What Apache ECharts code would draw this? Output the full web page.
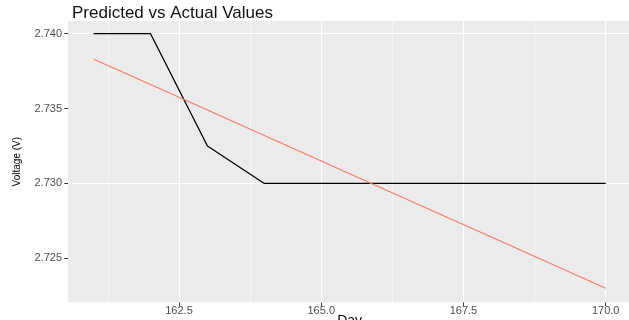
<!DOCTYPE html>
<html><head><meta charset="utf-8">
<script src="https://cdn.jsdelivr.net/npm/echarts@6/dist/echarts.min.js"></script>
<style>html,body{margin:0;padding:0;background:#fff;overflow:hidden}#c{width:629px;height:320px}</style>
</head><body><div id="c"></div>
<script>
const days = [161, 162, 163, 164, 165, 166, 167, 168, 169, 170];
const actual = [2.740, 2.740, 2.7325, 2.730, 2.730, 2.730, 2.730, 2.730, 2.730, 2.730];
const predicted = [2.7383, 2.7366, 2.7349, 2.7332, 2.7315, 2.7298, 2.7281, 2.7264, 2.7247, 2.7230];
const xTicks = [162.5, 165.0, 167.5, 170.0];
const xMinor = [161.25, 163.75, 166.25, 168.75];
const yTicks = [2.725, 2.730, 2.735, 2.740];
const yMinor = [2.7225, 2.7275, 2.7325, 2.7375];

const FONT = 'Liberation Sans, Arial, sans-serif';
const gridLines = [];
xMinor.forEach(v => gridLines.push({ xAxis: v, lineStyle: { width: 0.55 } }));
yMinor.forEach(v => gridLines.push({ yAxis: v, lineStyle: { width: 0.55 } }));
xTicks.forEach(v => gridLines.push({ xAxis: v, lineStyle: { width: 1.1 } }));
yTicks.forEach(v => gridLines.push({ yAxis: v, lineStyle: { width: 1.1 } }));

const chart = echarts.init(document.getElementById('c'), null, { renderer: 'canvas' });
chart.setOption({
  animation: false,
  title: {
    text: 'Predicted vs Actual Values', left: 67, top: 0,
    textStyle: { fontFamily: FONT, fontSize: 17, fontWeight: 'normal', color: '#111' }
  },
  grid: { left: 68, top: 21, width: 563.3, height: 281.3, show: true, backgroundColor: '#EBEBEB', borderWidth: 0, containLabel: false, outerBoundsMode: 'none' },
  xAxis: {
    type: 'value', min: 160.549, max: 170.45,
    name: 'Day', nameLocation: 'middle', nameGap: 12, nameMoveOverlap: false,
    nameTextStyle: { fontFamily: FONT, fontSize: 14, color: '#000' },
    axisLine: { show: false },
    axisTick: { show: true, customValues: xTicks, length: 3.7, lineStyle: { color: '#333', width: 1 } },
    axisLabel: { customValues: xTicks, formatter: v => v.toFixed(1), color: '#4d4d4d', fontFamily: FONT, fontSize: 11, margin: 3 },
    splitLine: { show: false }
  },
  yAxis: {
    type: 'value', min: 2.722061, max: 2.740848,
    name: 'Voltage (V)', nameLocation: 'middle', nameGap: 46, nameRotate: 90, nameMoveOverlap: false,
    nameTextStyle: { fontFamily: FONT, fontSize: 10, color: '#000' },
    axisLine: { show: false },
    axisTick: { show: true, customValues: yTicks, length: 3.7, lineStyle: { color: '#333', width: 1 } },
    axisLabel: { customValues: yTicks, formatter: v => v.toFixed(3), color: '#4d4d4d', fontFamily: FONT, fontSize: 11, margin: 6 },
    splitLine: { show: false }
  },
  series: [
    {
      type: 'line', data: [], z: 1, silent: true,
      markLine: { z: 1, zlevel: 0, silent: true, symbol: ['none', 'none'], label: { show: false }, animation: false,
        lineStyle: { color: '#ffffff', type: 'solid' }, emphasis: { disabled: true }, data: gridLines }
    },
    {
      name: 'Actual', type: 'line', z: 3, showSymbol: false, symbol: 'none',
      data: days.map((d, i) => [d, actual[i]]),
      lineStyle: { color: '#000000', width: 1.3 }
    },
    {
      name: 'Predicted', type: 'line', z: 3, showSymbol: false, symbol: 'none',
      data: days.map((d, i) => [d, predicted[i]]),
      lineStyle: { color: '#F8766D', width: 1.1 }
    }
  ]
});
</script>
</body></html>
